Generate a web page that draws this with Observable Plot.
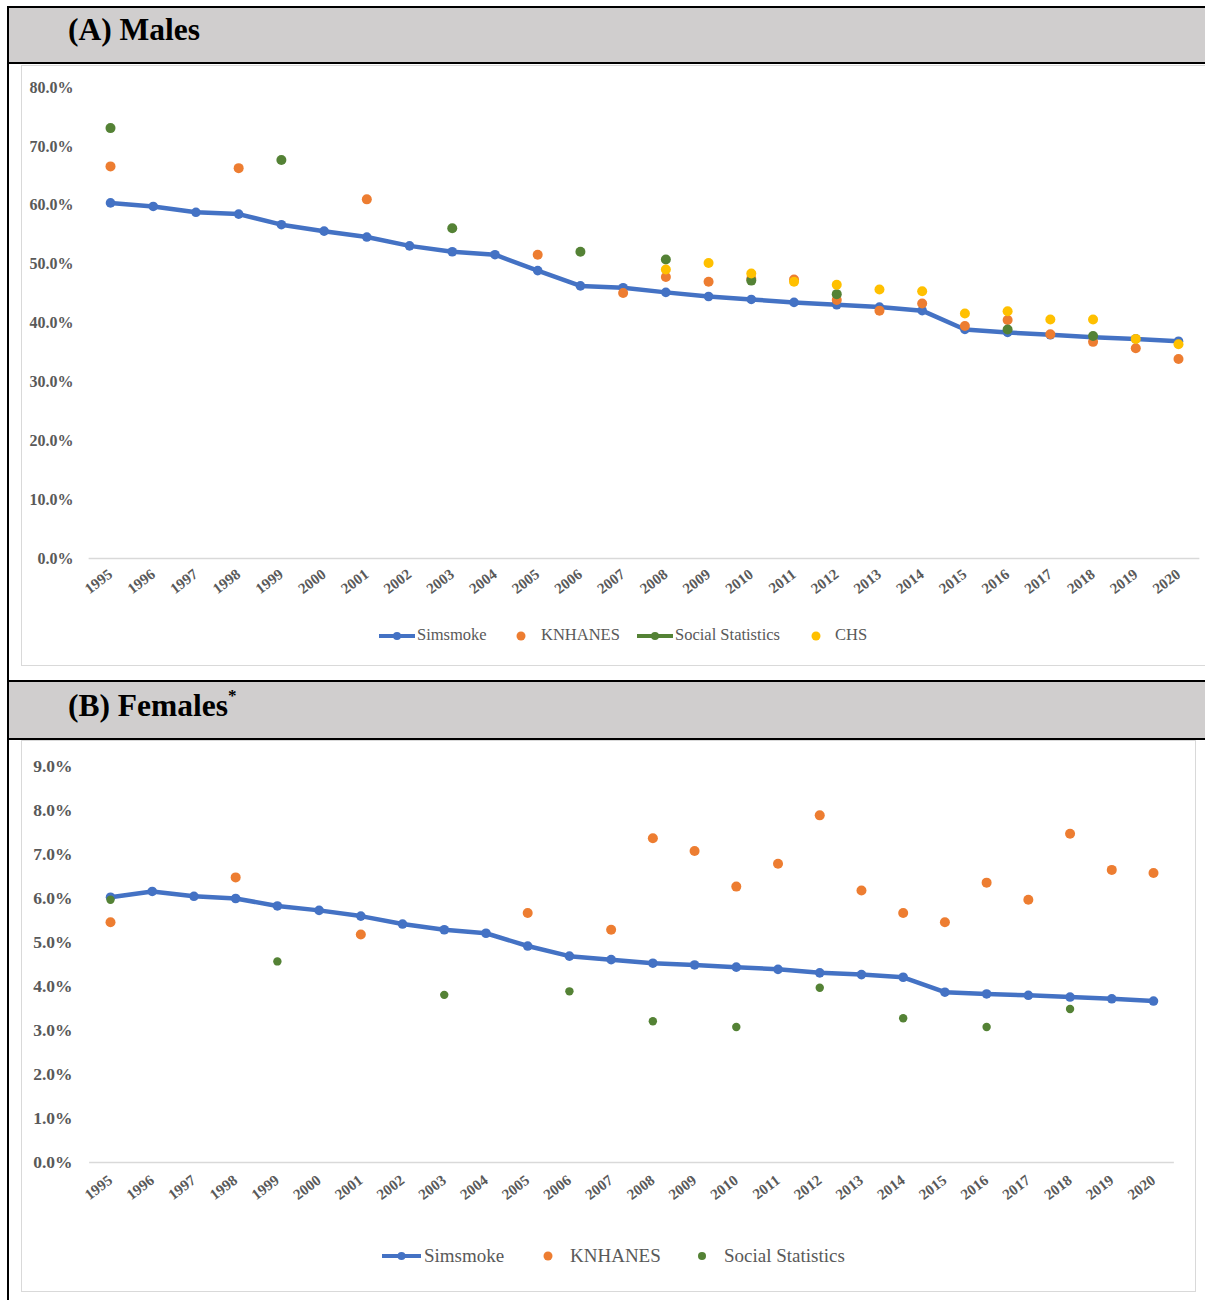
<!DOCTYPE html>
<html><head><meta charset="utf-8">
<script src="https://cdn.jsdelivr.net/npm/d3@7"></script>
<script src="https://cdn.jsdelivr.net/npm/@observablehq/plot@0.6"></script>
<style>
body{margin:0;background:#fff;font-family:"Liberation Serif","Times New Roman",serif;}
#page{position:relative;width:1205px;height:1300px;overflow:hidden;background:#fff;}
.vline{position:absolute;left:7px;top:6px;width:2px;height:1300px;background:#000;}
.hdr{position:absolute;left:7px;width:1210px;background:#d0cece;border-top:2px solid #000;border-bottom:2px solid #000;box-sizing:border-box;}
.hdr .t{position:absolute;left:61px;font-weight:bold;font-size:31.5px;line-height:31px;color:#000;white-space:nowrap;font-family:"Liberation Serif","Times New Roman",serif;}
.hdr sup{font-size:17px;position:relative;top:-3px;}
.box{position:absolute;border:1.5px solid #d9d9d9;box-sizing:border-box;background:#fff;}
.plot{position:absolute;}
.plot svg text{font-weight:bold;}
.lg{position:absolute;color:#595959;white-space:nowrap;line-height:1;font-family:"Liberation Serif","Times New Roman",serif;}
.lg svg{position:absolute;overflow:visible;}
</style>
</head><body>
<div id="page">
  <div class="hdr" style="top:6px;height:58px;"><div class="t" style="top:6px;">(A) Males</div></div>
  <div class="box" style="left:21px;top:65px;width:1200px;height:601px;"></div>
  <div class="hdr" style="top:680px;height:60px;"><div class="t" style="top:1px;">(B) Females<sup>*</sup></div></div>
  <div class="box" style="left:21px;top:740px;width:1175px;height:552px;"></div>
  <div class="vline"></div>
  <div id="plotA" class="plot" style="left:22px;top:67px;"></div>
  <div id="plotB" class="plot" style="left:22px;top:741px;"></div>
  <div id="legA"></div>
  <div id="legB"></div>
</div>
<script>
// ---------- data ----------
const years = [1995,1996,1997,1998,1999,2000,2001,2002,2003,2004,2005,2006,2007,2008,2009,2010,2011,2012,2013,2014,2015,2016,2017,2018,2019,2020];

// (A) Males, %
const maleSimsmoke = [60.4,59.8,58.8,58.5,56.7,55.6,54.6,53.1,52.1,51.6,48.9,46.3,46.0,45.2,44.5,44.0,43.5,43.1,42.7,42.1,38.9,38.4,38.0,37.6,37.3,36.9];
const maleKnhanesYears = [1995,1998,2001,2005,2007,2008,2009,2010,2011,2012,2013,2014,2015,2016,2017,2018,2019,2020];
const maleKnhanes = [66.6,66.3,61.0,51.6,45.1,47.8,47.0,47.5,47.4,43.9,42.1,43.3,39.5,40.5,38.1,36.8,35.7,33.9];
const maleSocialYears = [1995,1999,2003,2006,2008,2010,2012,2016,2018];
const maleSocial = [73.1,67.7,56.1,52.1,50.8,47.2,44.9,38.9,37.8];
const maleChsYears = [2008,2009,2010,2011,2012,2013,2014,2015,2016,2017,2018,2019,2020];
const maleChs = [49.1,50.2,48.4,47.0,46.5,45.7,45.4,41.6,42.0,40.6,40.6,37.3,36.4];
const maleTicks = [0,10,20,30,40,50,60,70,80];

// (B) Females, %
const femaleSimsmoke = [6.03,6.16,6.05,6.0,5.83,5.73,5.6,5.42,5.29,5.21,4.92,4.69,4.61,4.53,4.49,4.44,4.39,4.31,4.27,4.21,3.87,3.83,3.80,3.76,3.72,3.67];
const femaleKnhanesYears = [1995,1998,2001,2005,2007,2008,2009,2010,2011,2012,2013,2014,2015,2016,2017,2018,2019,2020];
const femaleKnhanes = [5.46,6.48,5.18,5.67,5.29,7.37,7.08,6.27,6.79,7.89,6.18,5.67,5.46,6.36,5.97,7.47,6.65,6.58];
const femaleSocialYears = [1995,1999,2003,2006,2008,2010,2012,2014,2016,2018];
const femaleSocial = [5.97,4.57,3.81,3.89,3.21,3.08,3.97,3.28,3.08,3.49];
const femaleTicks = [0,1,2,3,4,5,6,7,8,9];

const seriesNames = ["Simsmoke","KNHANES","Social Statistics","CHS"];
const colors = {"Simsmoke":"#4472c4","KNHANES":"#ed7d31","Social Statistics":"#548235","CHS":"#ffc000"};

const zip = (xs, vs) => xs.map((x,i)=>({year:x, value:vs[i]}));

function makePlot(o){
  return Plot.plot({
    width:o.width, height:o.height,
    marginLeft:88, marginRight:o.mr, marginTop:o.mt, marginBottom:o.mb,
    style:{fontFamily:"'Liberation Serif','Times New Roman',serif", color:"#595959", background:"transparent", overflow:"visible"},
    x:{type:"linear", domain:[1995,2020], label:null},
    y:{domain:[0,o.ticks[o.ticks.length-1]], label:null},
    marks:[
      Plot.ruleY([0],{x1:1994.5, x2:2020.5, stroke:"#d9d9d9", strokeWidth:1.3}),
      Plot.axisY({ticks:o.ticks, tickFormat:d=>d.toFixed(1)+"%", tickSize:0, tickPadding:o.ypad, fontSize:o.yfs, fontWeight:"bold", label:null}),
      Plot.axisX({ticks:years, tickFormat:d=>String(d), tickRotate:-37, tickSize:0, tickPadding:o.xpad, fontSize:15, fontWeight:"bold", label:null}),
      ...o.marks
    ]
  });
}

const maleSimData = zip(years, maleSimsmoke);
const plotA = makePlot({
  width:1183, height:560, mr:27, mt:20, mb:69, ticks:maleTicks, yfs:16, ypad:37, xpad:14,
  marks:[
    Plot.line(maleSimData,{x:"year",y:"value",stroke:colors["Simsmoke"],strokeWidth:4.5}),
    Plot.dot(maleSimData,{x:"year",y:"value",r:4.8,fill:colors["Simsmoke"]}),
    Plot.dot(zip(maleKnhanesYears,maleKnhanes),{x:"year",y:"value",r:5,fill:colors["KNHANES"]}),
    Plot.dot(zip(maleSocialYears,maleSocial),{x:"year",y:"value",r:5,fill:colors["Social Statistics"]}),
    Plot.dot(zip(maleChsYears,maleChs),{x:"year",y:"value",r:5,fill:colors["CHS"]})
  ]
});
document.getElementById("plotA").appendChild(plotA);

const femaleSimData = zip(years, femaleSimsmoke);
const plotB = makePlot({
  width:1173, height:500, mr:42, mt:25, mb:79, ticks:femaleTicks, yfs:17.5, ypad:38, xpad:16,
  marks:[
    Plot.line(femaleSimData,{x:"year",y:"value",stroke:colors["Simsmoke"],strokeWidth:4.5}),
    Plot.dot(femaleSimData,{x:"year",y:"value",r:4.8,fill:colors["Simsmoke"]}),
    Plot.dot(zip(femaleKnhanesYears,femaleKnhanes),{x:"year",y:"value",r:5,fill:colors["KNHANES"]}),
    Plot.dot(zip(femaleSocialYears,femaleSocial),{x:"year",y:"value",r:4.2,fill:colors["Social Statistics"]})
  ]
});
document.getElementById("plotB").appendChild(plotB);

// ---------- legends ----------
function legend(id, cy, fs, items){
  const root = document.getElementById(id);
  items.forEach(it=>{
    const c = colors[it.name];
    const sw = document.createElement("div");
    sw.className="lg";
    sw.style.left="0px"; sw.style.top="0px";
    const ns="http://www.w3.org/2000/svg";
    const svg=document.createElementNS(ns,"svg");
    svg.setAttribute("width","1"); svg.setAttribute("height","1");
    svg.style.left="0px"; svg.style.top="0px";
    if(it.kind==="line"){
      const l=document.createElementNS(ns,"line");
      l.setAttribute("x1",it.x0); l.setAttribute("x2",it.x1); l.setAttribute("y1",cy); l.setAttribute("y2",cy);
      l.setAttribute("stroke",c); l.setAttribute("stroke-width",4);
      svg.appendChild(l);
      const m=document.createElementNS(ns,"circle");
      m.setAttribute("cx",(it.x0+it.x1)/2); m.setAttribute("cy",cy); m.setAttribute("r",4); m.setAttribute("fill",c);
      svg.appendChild(m);
    } else {
      const m=document.createElementNS(ns,"circle");
      m.setAttribute("cx",it.x0); m.setAttribute("cy",cy); m.setAttribute("r",it.r||4.5); m.setAttribute("fill",c);
      svg.appendChild(m);
    }
    sw.appendChild(svg);
    root.appendChild(sw);
    const t=document.createElement("div");
    t.className="lg";
    t.textContent=it.name;
    t.style.fontSize=fs+"px";
    t.style.left=it.tx+"px";
    t.style.top=(cy-fs*0.55)+"px";
    root.appendChild(t);
  });
}
legend("legA", 636, 16.5, [
  {name:"Simsmoke", kind:"line", x0:379, x1:415, tx:417},
  {name:"KNHANES", kind:"dot", x0:521, tx:541},
  {name:"Social Statistics", kind:"line", x0:637, x1:673, tx:675},
  {name:"CHS", kind:"dot", x0:816, tx:835}
]);
legend("legB", 1256, 19, [
  {name:"Simsmoke", kind:"line", x0:382, x1:421, tx:424},
  {name:"KNHANES", kind:"dot", x0:548, tx:570},
  {name:"Social Statistics", kind:"dot", x0:702, tx:724, r:4}
]);
</script>
</body></html>
